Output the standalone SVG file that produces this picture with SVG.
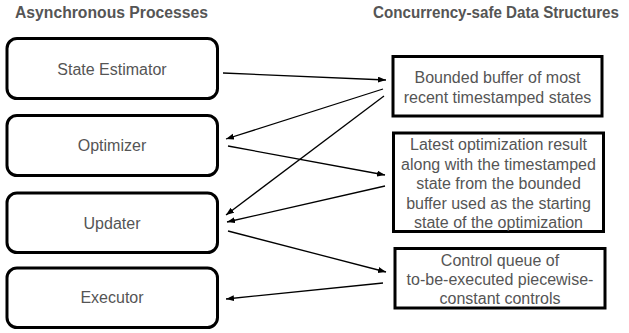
<svg xmlns="http://www.w3.org/2000/svg" width="629" height="333" viewBox="0 0 629 333">
<defs>
<marker id="ah" markerUnits="userSpaceOnUse" markerWidth="9" markerHeight="7" refX="8" refY="3" orient="auto">
<path d="M0,0 L8,3 L0,6 z" fill="#000"/>
</marker>
<style>
.hdr{font-family:"Liberation Sans",Arial,sans-serif;font-weight:bold;font-size:15.8px;fill:#555}
.lbl{font-family:"Liberation Sans",Arial,sans-serif;font-size:16px;fill:#555;text-anchor:middle}
.proc{fill:#fff;stroke:#000;stroke-width:3}
.ds{fill:#fff;stroke:#000;stroke-width:3}
.conn line{stroke:#000;stroke-width:1.3;marker-end:url(#ah)}
</style>
</defs>
<rect width="629" height="333" fill="#fff"/>
<text class="hdr" x="15" y="18" textLength="193" lengthAdjust="spacingAndGlyphs">Asynchronous Processes</text>
<text class="hdr" x="373" y="18" textLength="246" lengthAdjust="spacingAndGlyphs">Concurrency-safe Data Structures</text>

<g id="state-estimator">
<rect class="proc" x="7" y="38.5" width="210.5" height="60" rx="10"/>
<text class="lbl" x="112" y="74.5">State Estimator</text>
</g>
<g id="optimizer">
<rect class="proc" x="7" y="115.5" width="210.5" height="60" rx="10"/>
<text class="lbl" x="112" y="151">Optimizer</text>
</g>
<g id="updater">
<rect class="proc" x="7" y="193" width="210.5" height="59.5" rx="10"/>
<text class="lbl" x="112" y="228.5">Updater</text>
</g>
<g id="executor">
<rect class="proc" x="7" y="268" width="210.5" height="59.5" rx="10"/>
<text class="lbl" x="112" y="303">Executor</text>
</g>

<g id="bounded-buffer">
<rect class="ds" x="393" y="56.5" width="209" height="59.5"/>
<text class="lbl" x="497.5" y="83">Bounded buffer of most</text>
<text class="lbl" x="497.5" y="103">recent timestamped states</text>
</g>
<g id="latest-result">
<rect class="ds" x="393.5" y="133" width="210" height="98.5"/>
<text class="lbl" x="498.5" y="150">Latest optimization result</text>
<text class="lbl" x="498.5" y="169.5">along with the timestamped</text>
<text class="lbl" x="498.5" y="189">state from the bounded</text>
<text class="lbl" x="498.5" y="208.5">buffer used as the starting</text>
<text class="lbl" x="498.5" y="228">state of the optimization</text>
</g>
<g id="control-queue">
<rect class="ds" x="395" y="248.5" width="210" height="59.5"/>
<text class="lbl" x="500" y="265.5">Control queue of</text>
<text class="lbl" x="500" y="284.5">to-be-executed piecewise-</text>
<text class="lbl" x="500" y="303.5">constant controls</text>
</g>

<g id="connectors" class="conn">
<line x1="223" y1="73" x2="386" y2="80"/>
<line x1="383" y1="89" x2="226" y2="139"/>
<line x1="384" y1="96" x2="226" y2="215"/>
<line x1="228" y1="146" x2="385" y2="175"/>
<line x1="385" y1="186" x2="227" y2="222"/>
<line x1="228" y1="231" x2="386" y2="272"/>
<line x1="383" y1="283" x2="226" y2="299"/>
</g>
</svg>
